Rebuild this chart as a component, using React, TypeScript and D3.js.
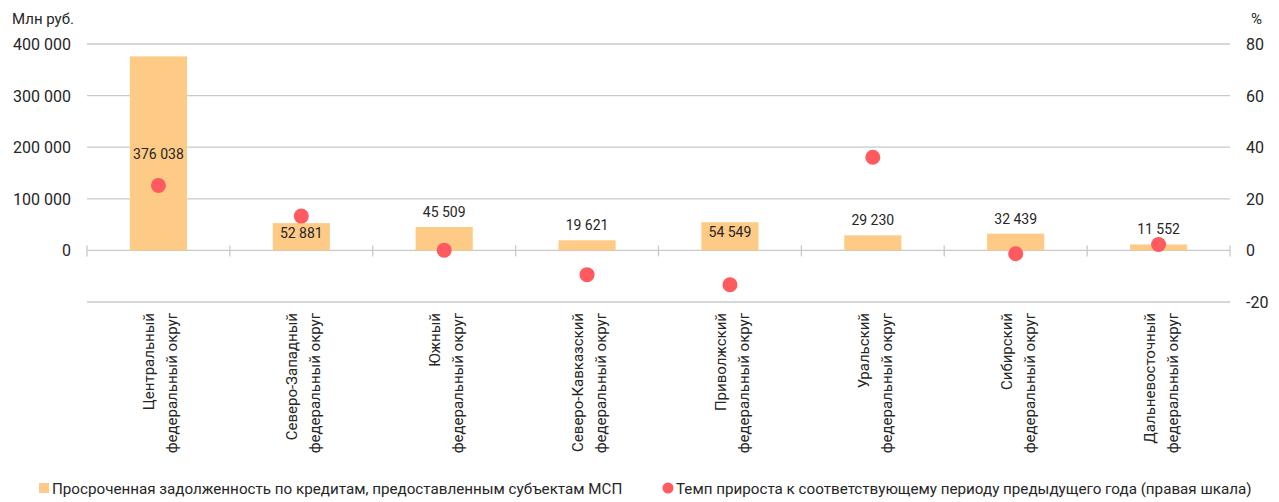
import React, { useEffect, useRef } from 'react';
import * as d3 from 'd3';

const regions = [
  'Центральный|федеральный округ',
  'Северо-Западный|федеральный округ',
  'Южный|федеральный округ',
  'Северо-Кавказский|федеральный округ',
  'Приволжский|федеральный округ',
  'Уральский|федеральный округ',
  'Сибирский|федеральный округ',
  'Дальневосточный|федеральный округ'
];
const overdue = [376038, 52881, 45509, 19621, 54549, 29230, 32439, 11552];
const growth = [25.2, 13.3, 0.1, -9.4, -13.3, 36.1, -1.3, 2.3];
const labelPlace = ['center', 'inside', 'above', 'above', 'inside', 'above', 'above', 'above'];
const leftTicks = [0, 100000, 200000, 300000, 400000];
const rightTicks = [-20, 0, 20, 40, 60, 80];
const legendBar = 'Просроченная задолженность по кредитам, предоставленным субъектам МСП';
const legendDot = 'Темп прироста к соответствующему периоду предыдущего года (правая шкала)';

const W = 1279, H = 502;
const barColor = '#FECB86';
const dotColor = '#FF5A5F';
const gridColor = '#C9C9C9';
const textColor = '#262626';
const font = 'Roboto, "Noto Sans", sans-serif';

const fmt = (v: number) => d3.format(',')(v).replace(/,/g, ' ');

export default function App() {
  const ref = useRef<SVGSVGElement>(null);

  useEffect(() => {
    const svg = d3.select(ref.current);
    svg.selectAll('*').remove();

    const left = 87, right = 1230, top = 44, bottom = 302;
    const x = d3.scaleBand().domain(regions).range([left, right]).paddingInner(0.6).paddingOuter(0.3);
    const y = d3.scaleLinear().domain([-100000, 400000]).range([bottom, top]);
    const y2 = d3.scaleLinear().domain([-20, 80]).range([bottom, top]);
    const step = x.step();

    // gridlines
    const grid = svg.append('g');
    grid.selectAll('line')
      .data([-100000, ...leftTicks])
      .enter()
      .append('line')
      .attr('x1', left).attr('x2', right)
      .attr('y1', d => y(d)).attr('y2', d => y(d))
      .attr('stroke', gridColor).attr('stroke-width', 1.3);

    // category ticks on the zero line
    grid.selectAll('line.tick')
      .data(d3.range(regions.length + 1))
      .enter()
      .append('line')
      .attr('class', 'tick')
      .attr('x1', i => left + i * step).attr('x2', i => left + i * step)
      .attr('y1', y(0) - 5).attr('y2', y(0) + 6)
      .attr('stroke', gridColor).attr('stroke-width', 1.3);

    // bars
    svg.append('g')
      .selectAll('rect')
      .data(overdue)
      .enter()
      .append('rect')
      .attr('x', (d, i) => x(regions[i])!)
      .attr('width', x.bandwidth())
      .attr('y', d => y(d))
      .attr('height', d => y(0) - y(d))
      .attr('fill', barColor);

    // bar labels
    svg.append('g')
      .selectAll('text')
      .data(overdue)
      .enter()
      .append('text')
      .attr('x', (d, i) => x(regions[i])! + x.bandwidth() / 2)
      .attr('y', (d, i) => {
        const p = labelPlace[i];
        if (p === 'center') return (y(d) + y(0)) / 2 + 6;
        if (p === 'inside') return y(d) + 15;
        return y(d) - 10;
      })
      .attr('text-anchor', 'middle')
      .attr('font-family', font)
      .attr('font-size', 14)
      .attr('fill', textColor)
      .text(d => fmt(d));

    // growth points
    svg.append('g')
      .selectAll('circle')
      .data(growth)
      .enter()
      .append('circle')
      .attr('cx', (d, i) => x(regions[i])! + x.bandwidth() / 2)
      .attr('cy', d => y2(d))
      .attr('r', 7.5)
      .attr('fill', dotColor);

    // left axis
    svg.append('g')
      .selectAll('text')
      .data(leftTicks)
      .enter()
      .append('text')
      .attr('x', 71)
      .attr('y', d => y(d) + 6)
      .attr('text-anchor', 'end')
      .attr('font-family', font)
      .attr('font-size', 16)
      .attr('fill', textColor)
      .text(d => fmt(d));

    // right axis
    svg.append('g')
      .selectAll('text')
      .data(rightTicks)
      .enter()
      .append('text')
      .attr('x', 1246)
      .attr('y', d => y2(d) + 6)
      .attr('font-family', font)
      .attr('font-size', 16)
      .attr('fill', textColor)
      .text(d => d);

    svg.append('text')
      .attr('x', 12).attr('y', 24)
      .attr('font-family', font).attr('font-size', 15)
      .attr('fill', textColor)
      .text('Млн руб.');
    svg.append('text')
      .attr('x', 1251).attr('y', 24)
      .attr('font-family', font).attr('font-size', 15)
      .attr('fill', textColor)
      .text('%');

    // category labels, rotated
    const cat = svg.append('g')
      .selectAll('text')
      .data(regions)
      .enter()
      .append('text')
      .attr('transform', d => `translate(${x(d)! + x.bandwidth() / 2},313) rotate(-90)`)
      .attr('text-anchor', 'end')
      .attr('font-family', font)
      .attr('font-size', 15)
      .attr('fill', textColor);
    cat.each(function (d) {
      const lines = d.split('|');
      d3.select(this).selectAll('tspan')
        .data(lines)
        .enter()
        .append('tspan')
        .attr('x', 0)
        .attr('y', (l, j) => -4 + j * 23)
        .text(l => l);
    });

    // legend
    const lg = svg.append('g').attr('font-family', font).attr('font-size', 15.2).attr('fill', textColor);
    lg.append('rect').attr('x', 39).attr('y', 483).attr('width', 10).attr('height', 10).attr('fill', barColor);
    lg.append('text').attr('x', 52).attr('y', 494).text(legendBar);
    lg.append('circle').attr('cx', 668).attr('cy', 488).attr('r', 5.5).attr('fill', dotColor);
    lg.append('text').attr('x', 676).attr('y', 494).text(legendDot);
  }, []);

  return (
    <svg ref={ref} width={W} height={H}
      style={{ position: 'absolute', left: 0, top: 0, background: '#fff' }} />
  );
}
